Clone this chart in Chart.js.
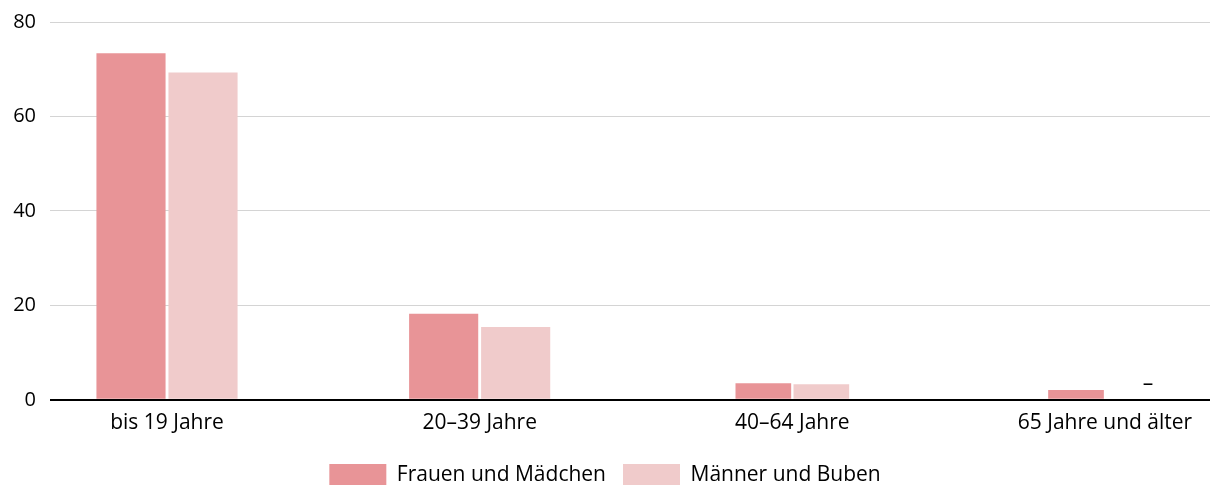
<!DOCTYPE html>
<html lang="de">
<head>
<meta charset="utf-8">
<script src="https://cdn.jsdelivr.net/npm/chart.js@4.4.1/dist/chart.umd.min.js"></script>
<style>
  html, body { margin: 0; padding: 0; background: #fff; }
  #wrap { width: 1214px; height: 485px; }
</style>
</head>
<body>
<div id="wrap"><canvas id="chart" width="1214" height="485"></canvas></div>
<script>
const ageGroups = ['bis 19 Jahre', '20–39 Jahre', '40–64 Jahre', '65 Jahre und älter'];
const women = [73.4, 18.2, 3.5, 2.1];
const men = [69.3, 15.4, 3.3, null]; // null: keine Angabe, shown as a dash
const yTicks = [0, 20, 40, 60, 80];
const seriesNames = ['Frauen und Mädchen', 'Männer und Buben'];

const womenColor = '#e89497';
const menColor = '#f0cbcb';
const fontFamily = '"Open Sans", sans-serif';
const fontSize = 21;

// first two groups get wider bars than the last two; each series is split in two
// datasets sharing one stack name so they still take the same slot in a group
const wideGroups = [0, 1];
const narrowGroups = [2, 3];

function points(values, idx) {
  return idx.map(function(i) { return { x: i, y: values[i] }; });
}

function series(which, idx, pct) {
  const values = which === 0 ? women : men;
  return {
    label: seriesNames[which],
    stack: 's' + which,
    data: points(values, idx),
    backgroundColor: which === 0 ? womenColor : menColor,
    categoryPercentage: pct,
    barPercentage: 0.96
  };
}

const xRange = { min: -0.3742, max: 3.3358 };

const missingDash = {
  id: 'missingDash',
  afterDatasetsDraw(chart) {
    const ctx = chart.ctx;
    const base = chart.scales.y.getPixelForValue(0);
    chart.data.datasets.forEach(function(ds, di) {
      const meta = chart.getDatasetMeta(di);
      ds.data.forEach(function(p, i) {
        if (p.y !== null) return;
        const bar = meta.data[i];
        ctx.save();
        ctx.fillStyle = '#000';
        ctx.font = fontSize + 'px ' + fontFamily;
        ctx.textAlign = 'center';
        ctx.textBaseline = 'middle';
        ctx.fillText('–', bar.x + 14, base - 16);
        ctx.restore();
      });
    });
  }
};

new Chart(document.getElementById('chart').getContext('2d'), {
  type: 'bar',
  data: {
    datasets: [
      series(0, wideGroups, 0.4606),
      series(1, wideGroups, 0.4606),
      series(0, narrowGroups, 0.371),
      series(1, narrowGroups, 0.371)
    ]
  },
  options: {
    responsive: false,
    animation: false,
    layout: {
      padding: { top: 0, right: 4, bottom: -11, left: 0 }
    },
    plugins: {
      tooltip: { enabled: false },
      legend: {
        position: 'bottom',
        labels: {
          filter: function(item) { return item.datasetIndex < 2; },
          boxWidth: 57,
          boxHeight: 22,
          padding: 17,
          color: '#000',
          font: { family: fontFamily, size: fontSize }
        }
      }
    },
    scales: {
      x: {
        type: 'linear',
        offset: false,
        min: xRange.min,
        max: xRange.max,
        afterBuildTicks: function(scale) {
          scale.ticks = ageGroups.map(function(_, i) { return { value: i }; });
        },
        grid: { display: false, drawTicks: false },
        border: { display: false },
        ticks: {
          autoSkip: false,
          maxRotation: 0,
          padding: 11,
          color: '#000',
          font: { family: fontFamily, size: fontSize },
          callback: function(v) { return ageGroups[v]; }
        }
      },
      y: {
        min: 0,
        max: 80,
        stacked: false,
        afterBuildTicks: function(scale) {
          scale.ticks = yTicks.map(function(v) { return { value: v }; });
        },
        afterFit: function(scale) { scale.width = 50; },
        border: { display: false },
        grid: {
          drawTicks: false,
          color: function(c) { return c.tick.value === 0 ? '#000' : '#d4d4d4'; },
          lineWidth: function(c) { return c.tick.value === 0 ? 2 : 1; }
        },
        ticks: {
          padding: 14,
          color: '#000',
          font: { family: fontFamily, size: 20, lineHeight: 0.8 }
        }
      }
    }
  },
  plugins: [missingDash]
});
</script>
</body>
</html>
